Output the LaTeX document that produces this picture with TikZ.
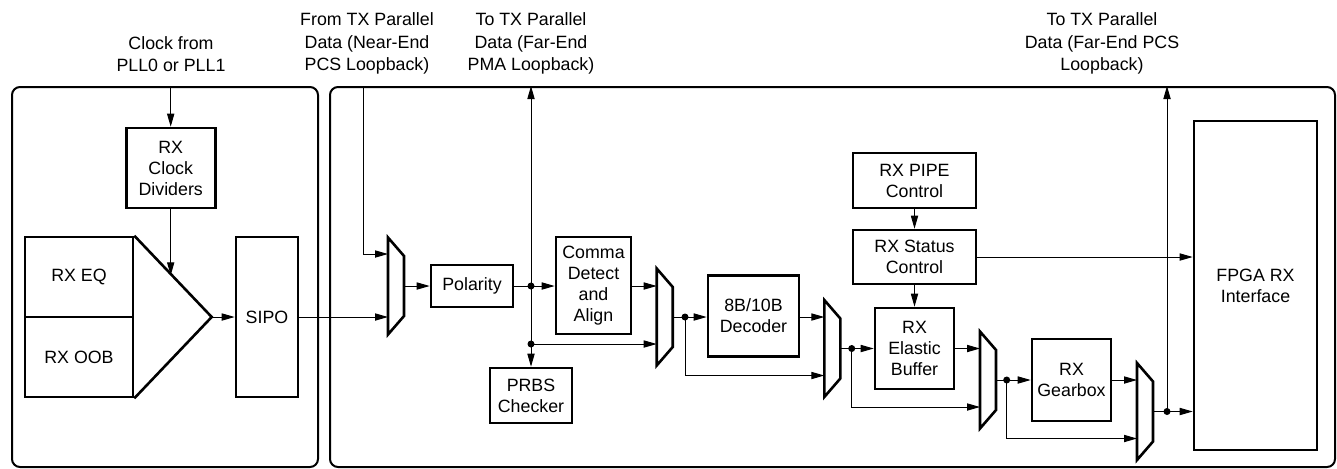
\documentclass[tikz,border=0pt]{standalone}
\usepackage{fontspec}
\setmainfont{Liberation Sans}
\usetikzlibrary{arrows.meta}
\newcommand\drawmux[5]{% name, xleft, ycenter, in1 y, in2 y
  \draw[muxs] (#2,#3-48.5) -- (#2+16,#3-30) -- (#2+16,#3+30) -- (#2,#3+48.5) -- cycle;
  \coordinate (#1i1) at (#2,#4);
  \coordinate (#1i2) at (#2,#5);
  \coordinate (#1o) at (#2+16,#3);}
\begin{document}
\begin{tikzpicture}[x=0.5pt,y=-0.5pt,
  box/.style={draw,line width=1.3pt,inner sep=0pt,align=center,
    font=\fontsize{8.9}{10.5}\selectfont},
  outer/.style={draw,line width=1pt,rounded corners=4pt,inner sep=0pt},
  lab/.style={inner sep=0pt,align=center,font=\fontsize{8.9}{11.1}\selectfont},
  muxs/.style={line width=1.3pt,line join=miter},
  conn/.style={line width=0.5pt},
  arr/.style={conn,-{Triangle[length=6.5pt,width=3.6pt]}},
  dot/.style={fill=black}]
\useasboundingbox (0,0) rectangle (1337,468);
% outer frames
\node[outer,minimum width=153pt,minimum height=190pt] (pma) at (165,277) {};
\node[outer,minimum width=502.5pt,minimum height=190pt] (pcs) at (832.5,277) {};
% top labels
\node[lab] (tclk) at (171,54.5) {Clock from\\PLL0 or PLL1};
\node[lab] (tnear) at (367,43.5) {From TX Parallel\\Data (Near-End\\PCS Loopback)};
\node[lab] (tpma) at (531,43.5) {To TX Parallel\\Data (Far-End\\PMA Loopback)};
\node[lab] (tpcs) at (1102,43.5) {To TX Parallel\\Data (Far-End PCS\\Loopback)};
% PMA blocks
\node[box,minimum width=44.5pt,minimum height=40pt] (clk) at (170.7,168) {RX\\Clock\\Dividers};
\node[box,minimum width=54pt,minimum height=40pt] (eq) at (79,277) {RX EQ};
\node[box,minimum width=54pt,minimum height=40pt] (oob) at (79,357) {RX OOB};
\coordinate (tip) at (211.7,317);
\draw[muxs] (eq.north east) -- (tip) -- (oob.south east);
\node[box,minimum width=31pt,minimum height=80pt] (sipo) at (267,317) {SIPO};
% PCS blocks
\node[box,minimum width=41pt,minimum height=21pt] (pol) at (472,286) {Polarity};
\node[box,minimum width=37.5pt,minimum height=48.5pt] (comma) at (593.5,285.5) {Comma\\Detect\\and\\Align};
\node[box,minimum width=41pt,minimum height=27.5pt] (prbs) at (531,395.5) {PRBS\\Checker};
\node[box,minimum width=45.5pt,minimum height=40.5pt] (dec) at (753.5,316) {8B/10B\\Decoder};
\node[box,minimum width=61.5pt,minimum height=27.5pt] (pipe) at (914.5,180.5) {RX PIPE\\Control};
\node[box,minimum width=61.5pt,minimum height=27pt] (stat) at (914.5,257) {RX Status\\Control};
\node[box,minimum width=39.5pt,minimum height=40.5pt] (ebuf) at (914.5,348.5) {RX\\Elastic\\Buffer};
\node[box,minimum width=39.5pt,minimum height=41pt] (gear) at (1071.5,380) {RX\\Gearbox};
\node[box,minimum width=61.5pt,minimum height=164.5pt] (fpga) at (1255.5,285.5) {FPGA RX\\Interface};
% muxes
\drawmux{ma}{388}{286}{254}{317}
\drawmux{mb}{656.7}{317}{286}{344}
\drawmux{mc}{824.3}{348.5}{317}{375.5}
\drawmux{md}{980}{380}{348.5}{407}
\drawmux{me}{1137}{411.5}{380}{438.5}
% junction points
\coordinate (d1) at (531,286);
\coordinate (d2) at (531,344);
\coordinate (d3) at (685,317);
\coordinate (d4) at (851.7,348.5);
\coordinate (d5) at (1006.7,380);
\coordinate (d6) at (1167,411.5);
\coordinate (ctri) at (170.7,275.3);
% PMA connectors
\draw[arr] (clk |- pma.north) -- (clk.north);
\draw[arr] (clk.south) -- (ctri);
\draw[arr] (tip) -- (sipo.west |- tip);
\draw[arr] (sipo.east |- mai2) -- (mai2);
% PCS connectors
\draw[arr] (363,0 |- pcs.north) |- (mai1);
\draw[arr] (mao) -- (pol.west |- mao);
\draw[conn] (pol.east |- d1) -- (d1);
\draw[arr] (d1) -- (comma.west |- d1);
\draw[arr] (d2) -- (d1 |- pcs.north);
\draw[arr] (d2) -- (prbs.north);
\draw[arr] (d2) -- (mbi2);
\draw[arr] (comma.east |- mbi1) -- (mbi1);
\draw[conn] (mbo) -- (d3);
\draw[arr] (d3) -- (dec.west |- d3);
\draw[arr] (d3) |- (mci2);
\draw[arr] (dec.east |- mci1) -- (mci1);
\draw[conn] (mco) -- (d4);
\draw[arr] (d4) -- (ebuf.west |- d4);
\draw[arr] (d4) |- (mdi2);
\draw[arr] (ebuf.east |- mdi1) -- (mdi1);
\draw[conn] (mdo) -- (d5);
\draw[arr] (d5) -- (gear.west |- d5);
\draw[arr] (d5) |- (mei2);
\draw[arr] (gear.east |- mei1) -- (mei1);
\draw[conn] (meo) -- (d6);
\draw[arr] (d6) -- (fpga.west |- d6);
\draw[arr] (d6) -- (d6 |- pcs.north);
\draw[arr] (pipe.south) -- (stat.north);
\draw[arr] (stat.south) -- (ebuf.north);
\draw[arr] (stat.east) -- (fpga.west |- stat.east);
% dots
\foreach \d in {d1,d2,d3,d4,d5,d6} \fill[dot] (\d) circle (1.75pt);
\end{tikzpicture}
\end{document}
